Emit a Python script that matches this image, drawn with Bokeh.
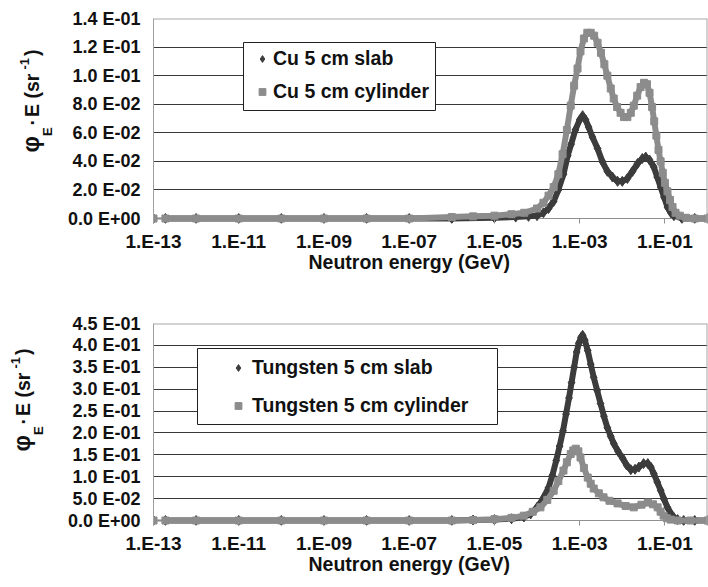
import math
from bokeh.plotting import figure
from bokeh.models import (Range1d, FixedTicker, CustomJSTickFormatter, Title, Span, Div,
                          BoxAnnotation, Legend, LegendItem, ColumnDataSource)
from bokeh.layouts import column, row
from bokeh.embed import file_html
from bokeh.resources import INLINE

FONT = "Liberation Sans"
DARK = "#3c3c3c"
GREY = "#8c8c8c"
TXT = "#111111"

# ---------------- data ----------------
x_tick_values = [1e-13, 1e-11, 1e-9, 1e-7, 1e-5, 1e-3, 1e-1]
x_tick_labels = ["1.E-13", "1.E-11", "1.E-09", "1.E-07", "1.E-05", "1.E-03", "1.E-01"]

cu_y_ticks = [0.0, 0.02, 0.04, 0.06, 0.08, 0.10, 0.12, 0.14]
cu_y_labels = ["0.0 E+00", "2.0 E-02", "4.0 E-02", "6.0 E-02", "8.0 E-02",
               "1.0 E-01", "1.2 E-01", "1.4 E-01"]
w_y_ticks = [0.0, 0.05, 0.10, 0.15, 0.20, 0.25, 0.30, 0.35, 0.40, 0.45]
w_y_labels = ["0.0 E+00", "5.0 E-02", "1.0 E-01", "1.5 E-01", "2.0 E-01",
              "2.5 E-01", "3.0 E-01", "3.5 E-01", "4.0 E-01", "4.5 E-01"]

# log10 of neutron energy (GeV) and phi_E * E (sr^-1)
cu_slab_log10E = [-13.0, -12.72, -12.0, -11.0, -10.0, -9.0, -8.0, -7.0, -6.0, -5.0,
                  -4.5, -4.2, -4.0, -3.85, -3.73, -3.61, -3.5, -3.38, -3.28, -3.2,
                  -3.1, -3.0, -2.93, -2.86, -2.79, -2.7, -2.58, -2.47, -2.35, -2.23,
                  -2.11, -2.0, -1.88, -1.76, -1.64, -1.53, -1.45, -1.36, -1.26, -1.18,
                  -1.10, -1.02, -0.94, -0.86, -0.79, -0.6, -0.3, 0.0]
cu_slab_phi = [0.0, 0.0, 0.0, 0.0, 0.0, 0.0, 0.0, 0.0, 0.0, 0.0005,
               0.001, 0.0015, 0.002, 0.004, 0.007, 0.012, 0.020, 0.031, 0.044, 0.052,
               0.062, 0.069, 0.072, 0.069, 0.064, 0.057, 0.049, 0.040, 0.033, 0.029,
               0.026, 0.026, 0.028, 0.033, 0.0385, 0.042, 0.043, 0.041, 0.036, 0.029,
               0.022, 0.015, 0.008, 0.004, 0.002, 0.0, 0.0, 0.0]

cu_cyl_log10E = [-13.0, -12.72, -12.0, -11.0, -10.0, -9.0, -8.0, -7.0, -6.0, -5.5,
                 -5.0, -4.6, -4.3, -4.0, -3.85, -3.73, -3.61, -3.5, -3.4, -3.3,
                 -3.21, -3.13, -3.05, -2.98, -2.9, -2.82, -2.74, -2.66, -2.58, -2.5,
                 -2.42, -2.35, -2.27, -2.2, -2.12, -2.04, -1.96, -1.88, -1.8, -1.73,
                 -1.65, -1.57, -1.49, -1.42, -1.36, -1.3, -1.25, -1.2, -1.15, -1.10,
                 -1.05, -1.0, -0.94, -0.88, -0.82, -0.75, -0.65, -0.5, -0.3, 0.0]
cu_cyl_phi = [0.0, 0.0, 0.0, 0.0, 0.0, 0.0, 0.0, 0.0, 0.001, 0.0015,
              0.002, 0.003, 0.004, 0.007, 0.011, 0.016, 0.022, 0.031, 0.045, 0.062,
              0.079, 0.093, 0.105, 0.117, 0.126, 0.130, 0.130, 0.128, 0.123, 0.116,
              0.108, 0.100, 0.091, 0.084, 0.078, 0.074, 0.071, 0.071, 0.074, 0.079,
              0.086, 0.092, 0.095, 0.094, 0.088, 0.078, 0.068, 0.058, 0.048, 0.040,
              0.032, 0.025, 0.019, 0.013, 0.008, 0.004, 0.002, 0.0005, 0.0, 0.0]

w_slab_log10E = [-13.0, -12.72, -12.0, -11.0, -10.0, -9.0, -8.0, -7.0, -6.0, -5.5,
                 -5.0, -4.6, -4.31, -4.15, -4.0, -3.86, -3.73, -3.64, -3.55, -3.47,
                 -3.39, -3.32, -3.25, -3.19, -3.13, -3.07, -3.02, -2.97, -2.93, -2.88,
                 -2.81, -2.74, -2.67, -2.59, -2.51, -2.43, -2.35, -2.27, -2.2, -2.1,
                 -1.99, -1.9, -1.8, -1.7, -1.61, -1.5, -1.4, -1.33, -1.26, -1.18,
                 -1.10, -1.02, -0.94, -0.86, -0.79, -0.7, -0.56, -0.3, 0.0]
w_slab_phi = [0.0, 0.0, 0.0, 0.0, 0.0, 0.0, 0.0, 0.0, 0.0, 0.001,
              0.002, 0.004, 0.008, 0.015, 0.030, 0.050, 0.075, 0.103, 0.137, 0.170,
              0.205, 0.243, 0.280, 0.315, 0.350, 0.385, 0.405, 0.418, 0.423, 0.412,
              0.388, 0.357, 0.327, 0.297, 0.267, 0.238, 0.212, 0.192, 0.176, 0.158,
              0.142, 0.127, 0.116, 0.117, 0.122, 0.130, 0.130, 0.122, 0.107, 0.088,
              0.069, 0.049, 0.030, 0.016, 0.007, 0.002, 0.0, 0.0, 0.0]

w_cyl_log10E = [-13.0, -12.72, -12.0, -11.0, -10.0, -9.0, -8.0, -7.0, -6.0, -5.5,
                -5.0, -4.6, -4.31, -4.1, -3.92, -3.76, -3.61, -3.5, -3.38, -3.3,
                -3.21, -3.15, -3.09, -3.03, -2.98, -2.9, -2.81, -2.74, -2.67, -2.55,
                -2.44, -2.3, -2.11, -1.92, -1.73, -1.55, -1.4, -1.28, -1.17, -1.1,
                -1.03, -0.95, -0.86, -0.7, -0.4, 0.0]
w_cyl_phi = [0.0, 0.0, 0.0, 0.0, 0.0, 0.0, 0.0, 0.0, 0.0, 0.001,
             0.003, 0.006, 0.011, 0.020, 0.030, 0.047, 0.068, 0.090, 0.114, 0.133,
             0.152, 0.160, 0.164, 0.158, 0.144, 0.120, 0.098, 0.084, 0.073, 0.062,
             0.053, 0.045, 0.039, 0.033, 0.030, 0.036, 0.041, 0.037, 0.030, 0.020,
             0.011, 0.005, 0.002, 0.0, 0.0, 0.0]

cu_legend_labels = ["Cu 5 cm slab", "Cu 5 cm cylinder"]
w_legend_labels = ["Tungsten 5 cm slab", "Tungsten 5 cm cylinder"]
x_title = "Neutron energy (GeV)"

# ---------------- layout constants (window pixels) ----------------
DIV_W = 60
FRAME_L, FRAME_R = 153, 707
PX_PER_DEC = (FRAME_R - FRAME_L) / 13.0
H1 = 300
H_TOTAL = 587


def px_x(px):
    return 10 ** (-13 + (px - FRAME_L) / PX_PER_DEC)


x_fmt_code = """
let best = 0, bd = Infinity;
for (let i = 0; i < vals.length; i++) {
  const d = Math.abs(Math.log10(tick) - Math.log10(vals[i]));
  if (d < bd) { bd = d; best = i; }
}
return labs[best];
"""
y_fmt_code = """
let best = 0, bd = Infinity;
for (let i = 0; i < vals.length; i++) {
  const d = Math.abs(tick - vals[i]);
  if (d < bd) { bd = d; best = i; }
}
return labs[best];
"""


def make_fig(yticks, ylabels, ymin, frame_h, top_b, bottom_b):
    p = figure(x_axis_type="log", x_range=Range1d(1e-13, 1.0),
               y_range=Range1d(ymin, yticks[-1]),
               frame_width=FRAME_R - FRAME_L, frame_height=frame_h,
               min_border_left=FRAME_L - DIV_W, min_border_right=1,
               min_border_top=top_b, min_border_bottom=bottom_b,
               output_backend="svg", toolbar_location=None)
    p.background_fill_color = "white"
    p.border_fill_color = "white"
    p.outline_line_color = None
    p.xgrid.visible = False
    p.ygrid.ticker = FixedTicker(ticks=yticks[1:-1])
    p.ygrid.grid_line_color = "#383838"
    p.ygrid.grid_line_width = 1
    # plot-area border lines (top, right) and the zero line under the curves
    p.add_layout(Span(location=yticks[-1], dimension="width", line_color="#a8a8a8", line_width=2))
    p.add_layout(Span(location=1.0, dimension="height", line_color="#a8a8a8", line_width=2))
    p.add_layout(Span(location=0.0, dimension="width", line_color="#909090", line_width=1,
                      level="underlay"))

    xa = p.xaxis[0]
    xa.ticker = FixedTicker(ticks=x_tick_values)
    xa.formatter = CustomJSTickFormatter(args=dict(vals=x_tick_values, labs=x_tick_labels),
                                         code=x_fmt_code)
    xa.axis_line_color = None
    xa.major_tick_line_color = "#909090"
    xa.major_tick_out = 0
    xa.major_tick_in = 5
    xa.minor_tick_line_color = None
    xa.major_label_standoff = 7
    xa.major_label_text_font = FONT
    xa.major_label_text_font_style = "bold"
    xa.major_label_text_font_size = "19px"
    xa.major_label_text_color = TXT

    ya = p.yaxis[0]
    ya.ticker = FixedTicker(ticks=yticks)
    ya.formatter = CustomJSTickFormatter(args=dict(vals=yticks, labs=ylabels), code=y_fmt_code)
    ya.axis_line_color = "#a0a0a0"
    ya.major_tick_line_color = None
    ya.minor_tick_line_color = None
    ya.major_tick_out = 0
    ya.major_tick_in = 0
    ya.major_label_standoff = 13
    ya.major_label_text_font = FONT
    ya.major_label_text_font_style = "bold"
    ya.major_label_text_font_size = "18px"
    ya.major_label_text_color = TXT

    p.add_layout(Title(text=x_title, align="left", offset=308 - FRAME_L, standoff=-8,
                       vertical_align="top", text_font=FONT, text_font_style="bold",
                       text_font_size="19.5px", text_color=TXT), "below")
    return p


def add_series(p, logE, phi, color, marker, size):
    xs = [10 ** v for v in logE]
    src = ColumnDataSource(dict(x=xs, y=phi))
    p.line(xs[:2], phi[:2], line_color=color, line_width=1.5)
    p.line(xs[1:], phi[1:], line_color=color, line_width=6, line_join="round")
    return p.scatter("x", "y", source=src, marker=marker, size=size,
                     fill_color=color, line_color=color)


def add_legend(p, py_to_y, box, labels, renderers, loc, glyph_w, spacing):
    l, r, t, b = box
    p.add_layout(BoxAnnotation(left=px_x(l), right=px_x(r), top=py_to_y(t), bottom=py_to_y(b),
                               fill_color="white", fill_alpha=1.0,
                               line_color="#202020", line_width=1, line_alpha=1.0))
    leg = Legend(items=[LegendItem(label=lab, renderers=[rr]) for lab, rr in zip(labels, renderers)],
                 location=loc, glyph_width=glyph_w, glyph_height=17, label_standoff=0,
                 padding=0, spacing=spacing, label_height=24, margin=0,
                 border_line_alpha=0, background_fill_alpha=0,
                 label_text_font=FONT, label_text_font_style="bold",
                 label_text_font_size="19.5px", label_text_color=TXT)
    p.add_layout(leg)


def ytitle_div(cx, cy, height):
    html = (
        f'<div style="position:relative;width:{DIV_W}px;height:{height}px;">'
        f'<div style="position:absolute;left:{cx}px;top:{cy}px;'
        'transform:translate(-50%,-50%) rotate(-90deg);white-space:nowrap;'
        f"font-family:'{FONT}';font-weight:bold;font-size:19.5px;color:{TXT};line-height:1;\">"
        '<span style="font-size:23px;">φ</span>'
        '<span style="font-size:13px;position:relative;top:13px;margin-right:2px;">E</span>'
        '<span style="margin-right:2px;">·</span>'
        'E (sr'
        '<span style="font-size:13px;position:relative;top:-10px;margin-left:4px;margin-right:2px;">-1</span>'
        ')</div></div>'
    )
    return Div(text=html, width=DIV_W, height=height, margin=0)


# ---------------- top chart (Cu) ----------------
def py_top(py):
    return (218 - py) * 0.14 / 200.0


p1 = make_fig(cu_y_ticks, cu_y_labels, py_top(223), 205, 18, H1 - 223)
r1 = add_series(p1, cu_slab_log10E, cu_slab_phi, DARK, "diamond", 10)
r2 = add_series(p1, cu_cyl_log10E, cu_cyl_phi, GREY, "square", 7)
add_legend(p1, py_top, (243, 435, 42, 110), cu_legend_labels, [r1, r2],
           (251 - FRAME_L, 223 - 103), 22, 9)


# ---------------- bottom chart (W) ----------------
def py_bot(py):
    return (520 - py) * 0.45 / 197.0


p2 = make_fig(w_y_ticks, w_y_labels, py_bot(525), 202, 323 - H1, H_TOTAL - 525)
r3 = add_series(p2, w_slab_log10E, w_slab_phi, DARK, "diamond", 10)
r4 = add_series(p2, w_cyl_log10E, w_cyl_phi, GREY, "square", 7)
add_legend(p2, py_bot, (197, 497, 348, 424), w_legend_labels, [r3, r4],
           (224 - FRAME_L, 525 - 417), 28, 14)

layout = column(row(ytitle_div(31, 101, H1), p1, spacing=0),
                row(ytitle_div(22, 400 - H1, H_TOTAL - H1), p2, spacing=0),
                spacing=0)
open("out.html", "w").write(file_html(layout, INLINE))
